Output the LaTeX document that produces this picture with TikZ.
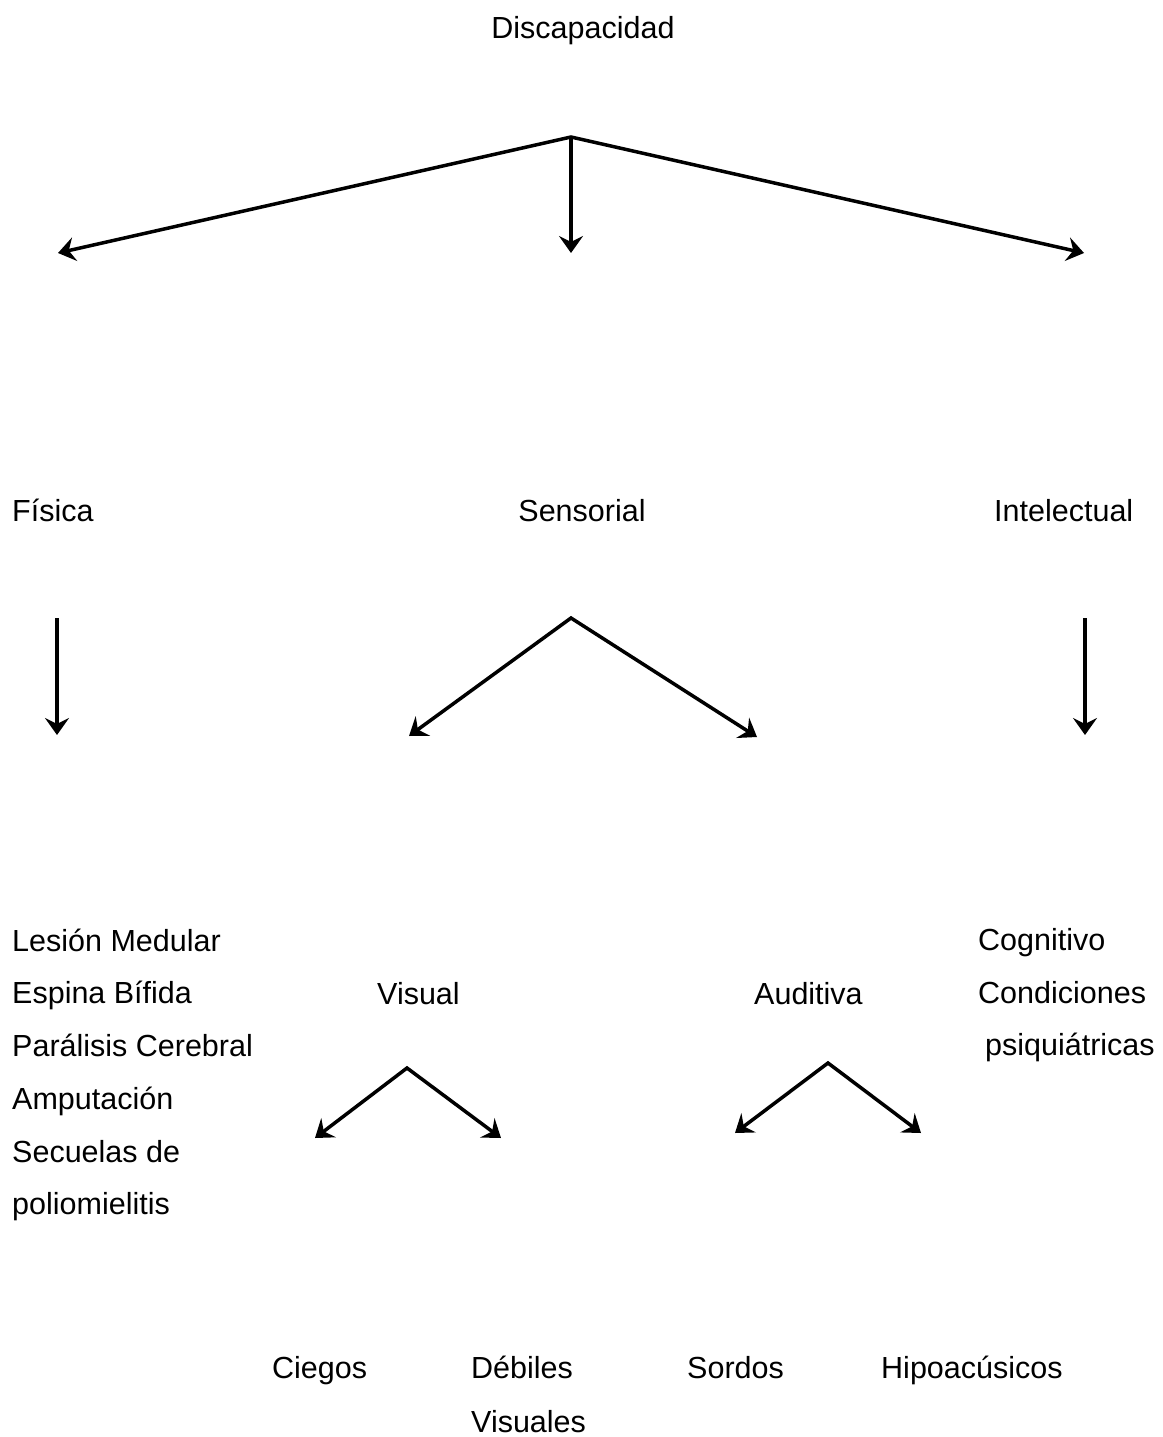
\documentclass[tikz,border=0pt]{standalone}
\usepackage{fontspec}
\setmainfont{Liberation Sans}
\usetikzlibrary{arrows.meta}
\begin{document}
\begin{tikzpicture}[x=1pt,y=-1pt,
  lbl/.style={inner sep=0pt, font=\fontsize{30.5}{36}\selectfont},
  lw/.style={lbl, anchor=base west},
  lc/.style={lbl, anchor=base},
  conn/.style={line width=3.5pt, line join=miter},
  arr/.style={conn, -{Stealth[length=17pt,width=24pt,inset=6pt]}},
  arr2/.style={conn, {Stealth[length=17pt,width=24pt,inset=6pt]}-{Stealth[length=17pt,width=24pt,inset=6pt]}}]
\useasboundingbox (0,0) rectangle (1162,1437);

% labels
\node[lc] (disc) at (583,38) {Discapacidad};
\node[lw] (fis) at (12,521) {Física};
\node[lc] (sen) at (582,521) {Sensorial};
\node[lw] (int) at (994,521) {Intelectual};

\node[lw] (f1) at (12,951) {Lesión Medular};
\node[lw] (f2) at (12,1003.5) {Espina Bífida};
\node[lw] (f3) at (12,1056) {Parálisis Cerebral};
\node[lw] (f4) at (12,1109) {Amputación};
\node[lw] (f5) at (12,1162) {Secuelas de};
\node[lw] (f6) at (12,1214.5) {poliomielitis};

\node[lw] (vis) at (377,1004) {Visual};
\node[lw] (aud) at (754,1004) {Auditiva};

\node[lw] (i1) at (978,950) {Cognitivo};
\node[lw] (i2) at (978,1003) {Condiciones};
\node[lw] (i3) at (985,1055) {psiquiátricas};

\node[lw] (cie) at (272,1378) {Ciegos};
\node[lw] (deb) at (471,1378) {Débiles};
\node[lw] (deb2) at (471,1432) {Visuales};
\node[lw] (sor) at (687,1378) {Sordos};
\node[lw] (hip) at (881,1378) {Hipoacúsicos};

% connector points
\coordinate (dTop) at (571,137);
\coordinate (dL) at (58,253);
\coordinate (dM) at (571,253);
\coordinate (dR) at (1084,253);

\coordinate (fTop) at (57,618);
\coordinate (fEnd) at (57,735);
\coordinate (sTop) at (571,618);
\coordinate (sL) at (409,736);
\coordinate (sR) at (757,737);
\coordinate (iTop) at (1085,618);
\coordinate (iEnd) at (1085,735);

\coordinate (vTop) at (407,1068);
\coordinate (vL) at (315,1138);
\coordinate (vR) at (501,1138);
\coordinate (aTop) at (828,1063);
\coordinate (aL) at (735,1133);
\coordinate (aR) at (921,1133);

% connectors
\draw[arr2] (dL) -- (dTop) -- (dR);
\draw[arr] (dTop) -- (dM);
\draw[arr] (fTop) -- (fEnd);
\draw[arr2] (sL) -- (sTop) -- (sR);
\draw[arr] (iTop) -- (iEnd);
\draw[arr2] (vL) -- (vTop) -- (vR);
\draw[arr2] (aL) -- (aTop) -- (aR);
\end{tikzpicture}
\end{document}
